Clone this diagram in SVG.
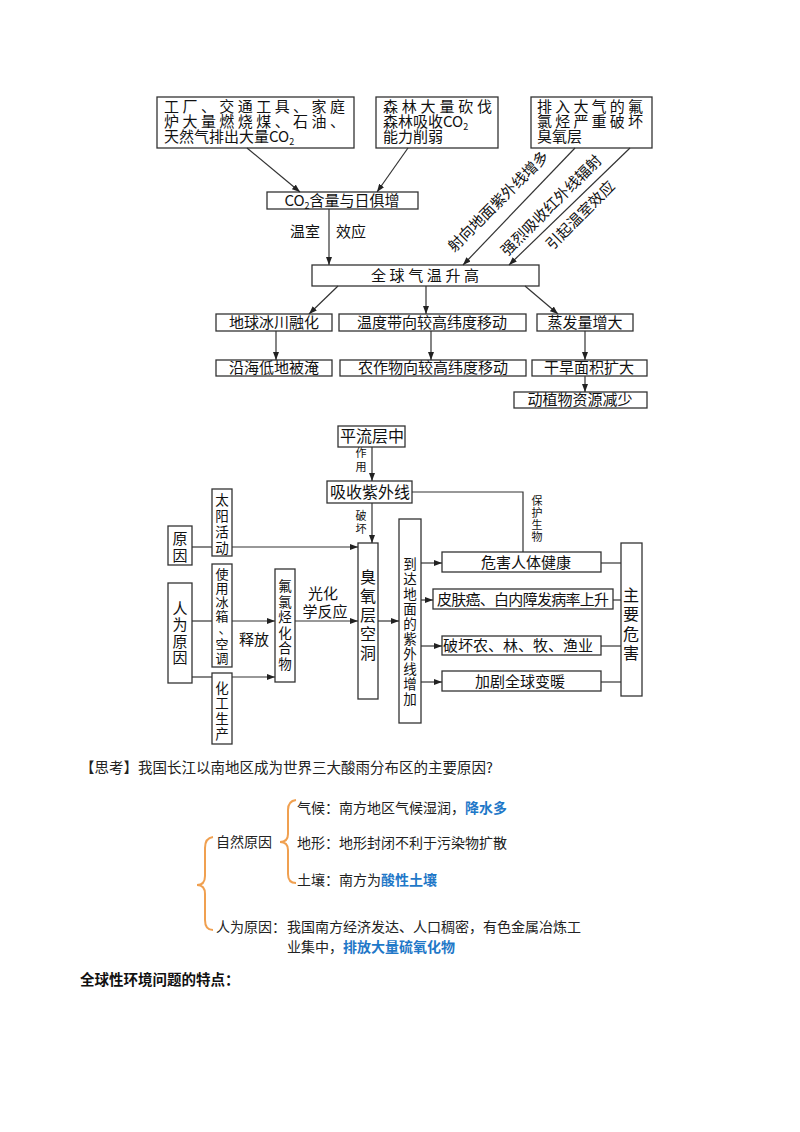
<svg xmlns="http://www.w3.org/2000/svg" width="800" height="1132" viewBox="0 0 800 1132">
<defs>
<marker id="ah" markerWidth="8" markerHeight="6" refX="8" refY="3" orient="auto" markerUnits="userSpaceOnUse"><path d="M0,0 L8,3 L0,6 Z" fill="#222"/></marker>
<style>
text{font-family:"Noto Sans CJK SC","Liberation Serif",serif;fill:#111}
.b{font-size:15px}
.v{font-size:13.5px}
.s{font-size:11px}
.m{font-size:16px}
.box rect,rect.bx{fill:#fff;stroke:#333;stroke-width:1.3}
.c line,.c path,.c polyline{stroke:#333;stroke-width:1.2;fill:none}
.a{marker-end:url(#ah)}
.t{font-size:14px;fill:#222}
.blue{fill:#1f78c8;font-weight:bold}
.br{stroke:#f0a050;stroke-width:2;fill:none}
</style>
</defs>
<rect width="800" height="1132" fill="#fff"/>
<!-- top diagram -->
<g id="n1" class="box"><rect x="157" y="97" width="197" height="51"/>
<text class="b" x="164" y="112" textLength="181">工厂、交通工具、家庭</text>
<text class="b" x="164" y="127" textLength="181">炉大量燃烧煤、石油、</text>
<text class="b" x="164" y="142">天然气排出大量CO<tspan font-size="9" dy="3">2</tspan></text></g>
<g id="n2" class="box"><rect x="376" y="97" width="122" height="51"/>
<text class="b" x="383" y="112" textLength="109">森林大量砍伐</text>
<text class="b" x="383" y="127">森林吸收CO<tspan font-size="9" dy="3">2</tspan></text>
<text class="b" x="383" y="142">能力削弱</text></g>
<g id="n3" class="box"><rect x="531" y="97" width="121" height="51"/>
<text class="b" x="537" y="112" textLength="106">排入大气的氟</text>
<text class="b" x="537" y="127" textLength="106">氯烃严重破坏</text>
<text class="b" x="537" y="142">臭氧层</text></g>
<g id="n4" class="box"><rect x="267" y="192" width="151" height="17"/>
<text class="b" x="342" y="206" text-anchor="middle">CO<tspan font-size="9" dy="3">2</tspan><tspan dy="-3">含量与日俱增</tspan></text></g>
<g id="n5" class="box"><rect x="312" y="265" width="227" height="21"/>
<text class="b" x="425" y="281" text-anchor="middle" textLength="108">全球气温升高</text></g>
<g id="n6" class="box"><rect x="216" y="314" width="116" height="17"/><text class="b" x="274" y="328" text-anchor="middle">地球冰川融化</text></g>
<g id="n7" class="box"><rect x="339" y="314" width="187" height="17"/><text class="b" x="432" y="328" text-anchor="middle">温度带向较高纬度移动</text></g>
<g id="n8" class="box"><rect x="537" y="314" width="96" height="17"/><text class="b" x="585" y="328" text-anchor="middle">蒸发量增大</text></g>
<g id="n9" class="box"><rect x="216" y="360" width="116" height="16"/><text class="b" x="274" y="373" text-anchor="middle">沿海低地被淹</text></g>
<g id="n10" class="box"><rect x="340" y="360" width="186" height="16"/><text class="b" x="433" y="373" text-anchor="middle">农作物向较高纬度移动</text></g>
<g id="n11" class="box"><rect x="532" y="360" width="115" height="16"/><text class="b" x="589" y="373" text-anchor="middle">干旱面积扩大</text></g>
<g id="n12" class="box"><rect x="514" y="392" width="133" height="16"/><text class="b" x="580" y="405" text-anchor="middle">动植物资源减少</text></g>
<g id="top-conn" class="c">
<line class="a" x1="247" y1="148" x2="300" y2="192"/>
<line class="a" x1="408" y1="148" x2="377" y2="192"/>
<line class="a" x1="329" y1="209" x2="329" y2="265"/>
<line class="a" x1="575" y1="148" x2="463" y2="265"/>
<line class="a" x1="630" y1="148" x2="509" y2="265"/>
<line class="a" x1="338" y1="286" x2="309" y2="314"/>
<line class="a" x1="426" y1="286" x2="426" y2="314"/>
<line class="a" x1="525" y1="286" x2="558" y2="314"/>
<line class="a" x1="276" y1="331" x2="276" y2="360"/>
<line class="a" x1="431" y1="331" x2="431" y2="360"/>
<line class="a" x1="585" y1="331" x2="585" y2="360"/>
<line class="a" x1="585" y1="376" x2="585" y2="392"/>
</g>
<text class="b" x="305" y="237" text-anchor="middle">温室</text>
<text class="b" x="351" y="237" text-anchor="middle">效应</text>
<text class="b" transform="translate(502,205) rotate(-45)" text-anchor="middle">射向地面紫外线增多</text>
<text class="b" transform="translate(555,209) rotate(-45)" text-anchor="middle">强烈吸收红外线辐射</text>
<text class="b" transform="translate(584,219) rotate(-45)" text-anchor="middle">引起温室效应</text>

<!-- second diagram -->
<g id="m1" class="box"><rect x="338" y="426" width="67" height="21"/><text class="m" x="372" y="442" text-anchor="middle">平流层中</text></g>
<g id="m2" class="box"><rect x="327" y="481" width="85" height="22"/><text class="m" x="370" y="498" text-anchor="middle">吸收紫外线</text></g>
<g id="m3" class="box"><rect x="358" y="543" width="20" height="156"/><text class="m" text-anchor="middle"><tspan x="368" y="583">臭</tspan><tspan x="368" y="602">氧</tspan><tspan x="368" y="621">层</tspan><tspan x="368" y="640">空</tspan><tspan x="368" y="659">洞</tspan></text></g>
<g id="m4" class="box"><rect x="168" y="526" width="24" height="39"/><text class="b" text-anchor="middle"><tspan x="180" y="544">原</tspan><tspan x="180" y="561">因</tspan></text></g>
<g id="m5" class="box"><rect x="212" y="489" width="20" height="67"/><text class="v" text-anchor="middle"><tspan x="222" y="505">太</tspan><tspan x="222" y="521">阳</tspan><tspan x="222" y="537">活</tspan><tspan x="222" y="553">动</tspan></text></g>
<g id="m6" class="box"><rect x="168" y="583" width="24" height="100"/><text class="b" text-anchor="middle"><tspan x="180" y="614">人</tspan><tspan x="180" y="630">为</tspan><tspan x="180" y="647">原</tspan><tspan x="180" y="663">因</tspan></text></g>
<g id="m7" class="box"><rect x="212" y="564" width="20" height="103"/><text class="v" text-anchor="middle" style="font-size:13px"><tspan x="222" y="579">使</tspan><tspan x="222" y="593">用</tspan><tspan x="222" y="607">冰</tspan><tspan x="222" y="621">箱</tspan><tspan x="225" y="633">、</tspan><tspan x="222" y="649">空</tspan><tspan x="222" y="663">调</tspan></text></g>
<g id="m8" class="box"><rect x="212" y="673" width="20" height="71"/><text class="v" text-anchor="middle"><tspan x="222" y="693">化</tspan><tspan x="222" y="708">工</tspan><tspan x="222" y="724">生</tspan><tspan x="222" y="739">产</tspan></text></g>
<g id="m9" class="box"><rect x="275" y="569" width="20" height="113"/><text class="v" text-anchor="middle"><tspan x="285" y="591">氟</tspan><tspan x="285" y="607">氯</tspan><tspan x="285" y="622">烃</tspan><tspan x="285" y="638">化</tspan><tspan x="285" y="653">合</tspan><tspan x="285" y="669">物</tspan></text></g>
<g id="m10" class="box"><rect x="399" y="519" width="22" height="204"/><text class="v" text-anchor="middle"><tspan x="410" y="569">到</tspan><tspan x="410" y="584">达</tspan><tspan x="410" y="599">地</tspan><tspan x="410" y="614">面</tspan><tspan x="410" y="629">的</tspan><tspan x="410" y="644">紫</tspan><tspan x="410" y="659">外</tspan><tspan x="410" y="674">线</tspan><tspan x="410" y="689">增</tspan><tspan x="410" y="704">加</tspan></text></g>
<g id="m11" class="box"><rect x="442" y="552" width="159" height="20"/><text class="b" x="526" y="568" text-anchor="middle">危害人体健康</text></g>
<g id="m12" class="box"><rect x="433" y="589" width="180" height="20"/><text class="b" x="523" y="605" text-anchor="middle" textLength="172">皮肤癌、白内障发病率上升</text></g>
<g id="m13" class="box"><rect x="442" y="636" width="159" height="19"/><text class="b" x="518" y="651" text-anchor="middle">破坏农、林、牧、渔业</text></g>
<g id="m14" class="box"><rect x="442" y="671" width="159" height="20"/><text class="b" x="520" y="687" text-anchor="middle">加剧全球变暖</text></g>
<g id="m15" class="box"><rect x="621" y="543" width="21" height="153"/><text class="m" text-anchor="middle"><tspan x="631" y="601">主</tspan><tspan x="631" y="620">要</tspan><tspan x="631" y="640">危</tspan><tspan x="631" y="659">害</tspan></text></g>
<g id="mid-conn" class="c">
<line class="a" x1="372" y1="447" x2="372" y2="481"/>
<line class="a" x1="372" y1="503" x2="372" y2="543"/>
<polyline points="412,492 523,492 523,552"/>
<line x1="192" y1="547" x2="212" y2="547"/>
<line class="a" x1="232" y1="547" x2="358" y2="547"/>
<line x1="192" y1="621" x2="212" y2="621"/>
<line x1="192" y1="677" x2="212" y2="677"/>
<line class="a" x1="232" y1="621" x2="275" y2="621"/>
<line class="a" x1="232" y1="677" x2="275" y2="677"/>
<line class="a" x1="295" y1="621" x2="358" y2="621"/>
<line class="a" x1="378" y1="621" x2="399" y2="621"/>
<line class="a" x1="421" y1="563" x2="442" y2="563"/>
<line class="a" x1="421" y1="600" x2="433" y2="600"/>
<line class="a" x1="421" y1="646" x2="442" y2="646"/>
<line class="a" x1="421" y1="682" x2="442" y2="682"/>
<line x1="601" y1="563" x2="621" y2="563"/>
<line x1="613" y1="600" x2="621" y2="600"/>
<line x1="601" y1="646" x2="621" y2="646"/>
<line x1="601" y1="682" x2="621" y2="682"/>
</g>
<text class="s" text-anchor="middle"><tspan x="361" y="457">作</tspan><tspan x="361" y="471">用</tspan></text>
<text class="s" text-anchor="middle"><tspan x="361" y="520">破</tspan><tspan x="361" y="533">坏</tspan></text>
<text class="s" text-anchor="middle"><tspan x="537" y="505">保</tspan><tspan x="537" y="517">护</tspan><tspan x="537" y="529">生</tspan><tspan x="537" y="541">物</tspan></text>
<text class="b" x="254" y="645" text-anchor="middle">释放</text>
<text class="b" x="323" y="599" text-anchor="middle">光化</text>
<text class="b" x="325" y="617" text-anchor="middle">学反应</text>

<!-- text section -->
<text class="t" x="80" y="773" style="font-size:14.5px">【思考】我国长江以南地区成为世界三大酸雨分布区的主要原因?</text>
<path class="br" d="M213,837 Q205,838 205,848 L205,876 Q205,885 197,885 Q205,885 205,894 L205,920 Q205,930 213,930"/>
<path class="br" d="M296,800 Q288,801 288,810 L288,834 Q288,842 280,842 Q288,842 288,850 L288,874 Q288,883 296,883"/>
<text class="t" x="216" y="847">自然原因</text>
<text class="t" x="297" y="813">气候：南方地区气候湿润，<tspan class="blue">降水多</tspan></text>
<text class="t" x="297" y="848">地形：地形封闭不利于污染物扩散</text>
<text class="t" x="297" y="885">土壤：南方为<tspan class="blue">酸性土壤</tspan></text>
<text class="t" x="216" y="932">人为原因：</text>
<text class="t" x="287" y="932">我国南方经济发达、人口稠密，有色金属冶炼工</text>
<text class="t" x="287" y="952">业集中，<tspan class="blue">排放大量硫氧化物</tspan></text>
<text x="80" y="985" style="font-size:14.5px;font-weight:bold">全球性环境问题的特点：</text>
</svg>
